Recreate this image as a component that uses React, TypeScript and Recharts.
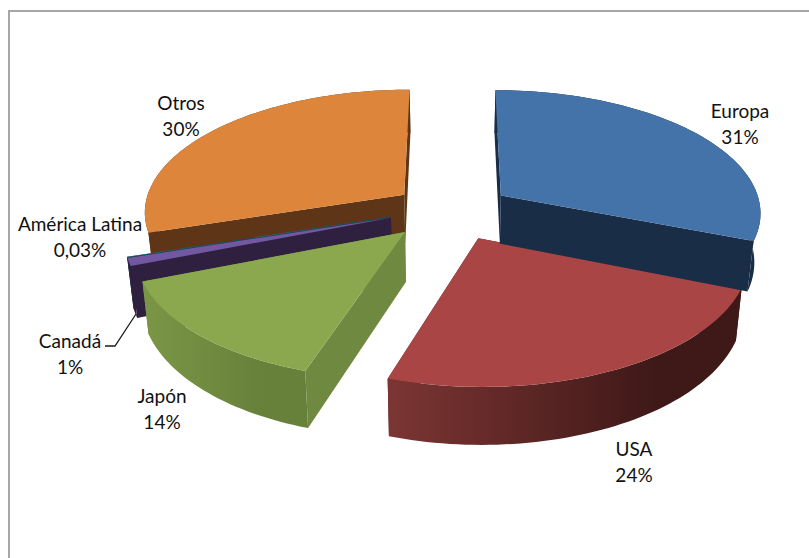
import React from 'react';
import { PieChart, Pie } from 'recharts';

// Draw order runs back to front, so the slices are listed counter-clockwise from twelve o'clock.
const categories = ['Otros', 'América Latina', 'Canadá', 'Japón', 'USA', 'Europa'];
const shares = [30, 0.03, 1, 14, 24, 31];
const topColors = ['#dc853b', '#3f9db4', '#7158a0', '#8ba84e', '#a94645', '#4473a9'];
const wallLeft = ['#5e3617', '#1c4a55', '#302040', '#7b9646', '#7c3533', '#1a2d47'];
const wallRight = ['#5e3617', '#1c4a55', '#302040', '#67803a', '#3f1918', '#1a2d47'];
const cutColors = ['#5e3617', '#1c4a55', '#302040', '#6f8a40', '#441b1a', '#1a2d47'];

const W = 809;
const H = 558;
const CENTER_X = 451;
const CENTER_Y = 211;
const RADIUS = 261;
const TILT = 0.469; // vertical squash of the pie plane
const PERSPECTIVE = 0.128; // near edge looks larger than far edge
const EXPLODE = 0.23; // slice pull-out as a share of the radius
const DEPTH = 49; // wall height at the plane's centre
const FLOOR_SHRINK = 0.02; // the underside sits further from the viewer, so it is slightly narrower
const RAD = Math.PI / 180;

// Extra pull-out of each slice in pixels, in the same order as categories.
const sliceNudges: [number, number][] = [
  [1, 0],
  [-3, -3],
  [-3, -3],
  [-4, 0],
  [1, 1],
  [1, 0],
];

// Centre of each two-line label, in the same order as categories.
const labelCentres: [number, number][] = [
  [181, 116],
  [80, 237],
  [70, 354],
  [162, 409],
  [634, 462],
  [740, 124],
];

type Pt = [number, number];

function project(x: number, y: number, h: number, cx: number, cy: number, r: number): Pt {
  const d = 1 - PERSPECTIVE * y;
  return [cx + ((r * x) / d) * (1 - FLOOR_SHRINK * h), cy + (r * TILT * y + DEPTH * h) / d];
}

const toPath = (pts: Pt[]) =>
  'M' + pts.map((p) => `${p[0].toFixed(2)},${p[1].toFixed(2)}`).join('L') + 'Z';

function Slice3D(props: any) {
  const { cx, cy, outerRadius, startAngle, endAngle } = props;
  const name = props.name ?? props.payload?.name;
  const i = categories.indexOf(name);
  const mid = ((startAngle + endAngle) / 2) * RAD;
  const ox = Math.cos(mid) * EXPLODE;
  const oy = -Math.sin(mid) * EXPLODE;
  const [nx, ny] = sliceNudges[i];

  const P = (a: number, rim: number, h: number): Pt => {
    const [px, py] = project(ox + rim * Math.cos(a * RAD), oy - rim * Math.sin(a * RAD), h, cx, cy, outerRadius);
    return [px + nx, py + ny];
  };

  const steps = Math.max(2, Math.ceil(Math.abs(endAngle - startAngle) / 1.5));
  const angles: number[] = [];
  for (let k = 0; k <= steps; k++) angles.push(startAngle + ((endAngle - startAngle) * k) / steps);

  const top: Pt[] = [P(0, 0, 0), ...angles.map((a) => P(a, 1, 0))];
  const wall: Pt[] = [
    ...angles.map((a) => P(a, 1, 0)),
    ...angles.slice().reverse().map((a) => P(a, 1, 1)),
  ];
  const cut = (a: number): Pt[] => [P(0, 0, 0), P(a, 1, 0), P(a, 1, 1), P(0, 0, 1)];

  const xs = wall.map((p) => p[0]);
  const gradientId = `slice-wall-${i}`;
  return (
    <g>
      <defs>
        <linearGradient
          id={gradientId}
          gradientUnits="userSpaceOnUse"
          x1={Math.min(...xs)}
          x2={Math.max(...xs)}
          y1={0}
          y2={0}
        >
          <stop offset="0%" stopColor={wallLeft[i]} />
          <stop offset="75%" stopColor={wallRight[i]} />
        </linearGradient>
      </defs>
      <path d={toPath(cut(startAngle))} fill={cutColors[i]} />
      <path d={toPath(cut(endAngle))} fill={cutColors[i]} />
      <path d={toPath(wall)} fill={`url(#${gradientId})`} />
      <path d={toPath(top)} fill={topColors[i]} />
    </g>
  );
}

function SliceLabel(props: any) {
  const i = categories.indexOf(props.name ?? props.payload?.name);
  const [x, y] = labelCentres[i];
  const value = String(shares[i]).replace('.', ',') + '%';
  return (
    <g>
      {categories[i] === 'Canadá' && (
        <polyline points="105,346 115,346 136,314" fill="none" stroke="#1a1a1a" strokeWidth={1.3} />
      )}
      <text
        textAnchor="middle"
        fontFamily="Lato, 'Open Sans', sans-serif"
        fontSize={19}
        fill="#111"
      >
        <tspan x={x} y={y - 6}>{categories[i]}</tspan>
        <tspan x={x} y={y + 20}>{value}</tspan>
      </text>
    </g>
  );
}

const rows = categories.map((name, i) => ({ name, value: shares[i] }));

export default function App() {
  return (
    <div style={{ position: 'absolute', left: 0, top: 0, width: W, height: H, overflow: 'hidden', background: '#fff' }}>
      <div style={{ position: 'absolute', left: 8, top: 10, width: W - 8, height: 2, background: '#a6a6a6' }} />
      <div style={{ position: 'absolute', left: 8, top: 10, width: 2, height: H - 10, background: '#a6a6a6' }} />
      <PieChart width={W} height={H} margin={{ top: 0, right: 0, bottom: 0, left: 0 }}>
        <Pie
          data={rows}
          dataKey="value"
          nameKey="name"
          cx={CENTER_X}
          cy={CENTER_Y}
          innerRadius={0}
          outerRadius={RADIUS}
          startAngle={90}
          endAngle={450}
          shape={Slice3D}
          label={SliceLabel}
          labelLine={false}
          isAnimationActive={false}
        />
      </PieChart>
    </div>
  );
}
